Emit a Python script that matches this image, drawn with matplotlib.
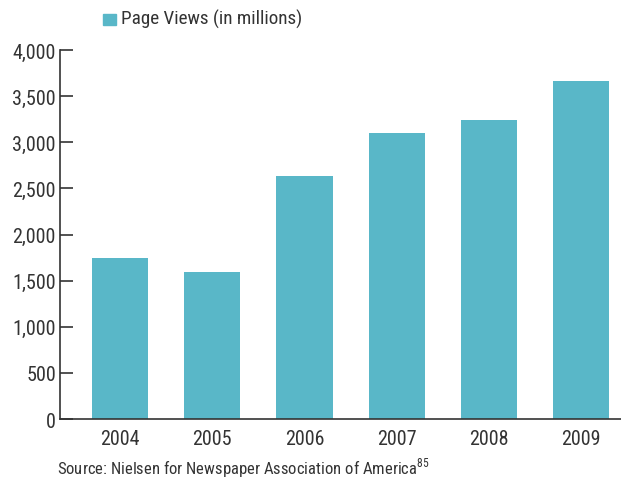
import matplotlib
matplotlib.use("Agg")
import matplotlib.pyplot as plt
from matplotlib import font_manager

years = ["2004", "2005", "2006", "2007", "2008", "2009"]
page_views = [1745, 1595, 2635, 3100, 3245, 3665]
yticks = [0, 500, 1000, 1500, 2000, 2500, 3000, 3500, 4000]
ytick_labels = ["0", "500", "1,000", "1,500", "2,000", "2,500", "3,000", "3,500", "4,000"]
legend_label = "Page Views (in millions)"
source_text = "Source: Nielsen for Newspaper Association of America$^{85}$"

names = {f.name for f in font_manager.fontManager.ttflist}
fam = "DejaVu Sans"
for cand in ["Liberation Sans Narrow", "DejaVu Sans Condensed", "Roboto Condensed",
             "Open Sans Condensed", "Lato"]:
    if cand in names:
        fam = cand
        break
plt.rcParams['font.family'] = [fam, 'DejaVu Sans']
plt.rcParams['mathtext.fontset'] = 'custom'
plt.rcParams['mathtext.rm'] = fam

color = "#59B7C8"
dark = "#333333"

fig = plt.figure(figsize=(6.21, 4.81), dpi=100)
W, H = 621, 481
ax = fig.add_axes([60 / W, 1 - 420 / H, (621 - 60) / W, (420 - 51) / H])

x = list(range(len(years)))
ax.bar(x, page_views, width=0.61, color=color, zorder=2)
ax.set_xlim(-0.65, 5.43)
ax.set_ylim(0, 4000)
ax.set_yticks(yticks)
ax.set_yticklabels(ytick_labels, fontsize=14.5, color=dark)
ax.set_xticks(x)
ax.set_xticklabels(years, fontsize=14.5, color=dark)
ax.tick_params(axis='y', direction='in', length=9.5, width=1.2, color=dark, pad=3)
ax.tick_params(axis='x', length=0, pad=7.5)
for s in ['top', 'right']:
    ax.spines[s].set_visible(False)
for s in ['left', 'bottom']:
    ax.spines[s].set_color(dark)
    ax.spines[s].set_linewidth(1.2)

fig.patches.append(plt.Rectangle((103 / W, 1 - 26 / H), 13 / W, 11 / H,
                                 transform=fig.transFigure, color=color))
fig.text(121 / W, 1 - 19 / H, legend_label, fontsize=13.8, color=dark, va='center', ha='left')
fig.text(57 / W, 1 - 468 / H, source_text, fontsize=12, color=dark, va='center', ha='left')

fig.savefig("out.png", dpi=100)
